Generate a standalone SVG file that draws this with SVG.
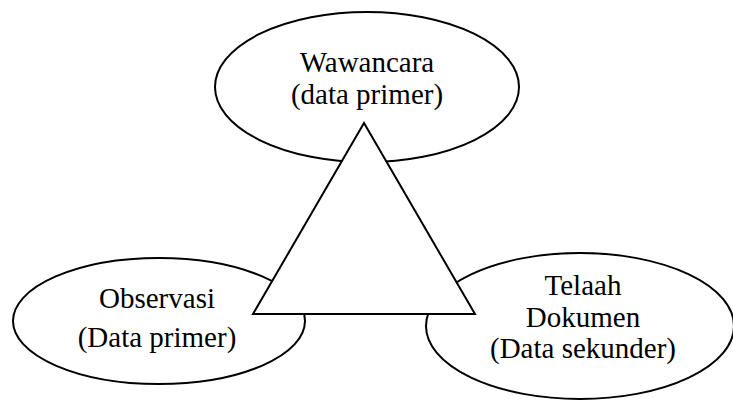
<svg xmlns="http://www.w3.org/2000/svg" width="733" height="400" viewBox="0 0 733 400">
<style>
.shape{fill:#fff;stroke:#000;stroke-width:2}
</style>
<rect width="733" height="400" fill="#fff"/>
<g font-family="Liberation Serif, Times New Roman, serif" font-size="29" text-anchor="middle" fill="#000">
<g id="wawancara">
<ellipse class="shape" cx="367" cy="87" rx="152" ry="75"/>
<text x="367" y="72">Wawancara</text>
<text x="367" y="104">(data primer)</text>
</g>
<g id="observasi">
<ellipse class="shape" cx="159" cy="321" rx="146" ry="63"/>
<text x="157" y="308">Observasi</text>
<text x="157" y="347">(Data primer)</text>
</g>
<g id="telaah">
<ellipse class="shape" cx="580" cy="326" rx="154" ry="73"/>
<text x="583" y="295">Telaah</text>
<text x="583" y="327">Dokumen</text>
<text x="583" y="358">(Data sekunder)</text>
</g>
</g>
<g id="triangle">
<polygon class="shape" points="364,123 253,314 475,314"/>
</g>
<g id="connectors"></g>
</svg>
